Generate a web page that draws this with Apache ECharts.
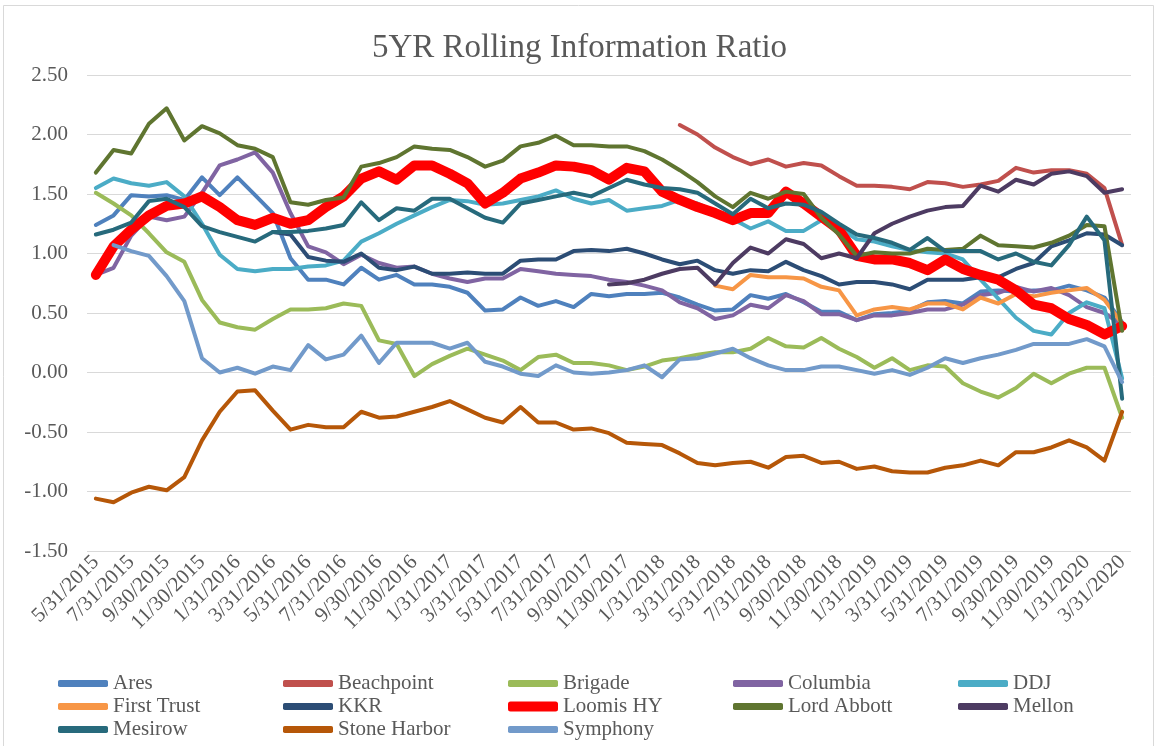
<!DOCTYPE html>
<html>
<head>
<meta charset="utf-8">
<title>5YR Rolling Information Ratio</title>
<script src="https://cdn.jsdelivr.net/npm/echarts@6/dist/echarts.min.js"></script>
<style>
    html, body { margin: 0; padding: 0; background: #fff; }
    #chart { width: 1159px; height: 746px; }
</style>
</head>
<body>
<div id="chart"></div>
<script>
const dates = [
    '5/31/2015', '6/30/2015', '7/31/2015', '8/31/2015', '9/30/2015', '10/31/2015', '11/30/2015', '12/31/2015',
    '1/31/2016', '2/29/2016', '3/31/2016', '4/30/2016', '5/31/2016', '6/30/2016', '7/31/2016', '8/31/2016',
    '9/30/2016', '10/31/2016', '11/30/2016', '12/31/2016',
    '1/31/2017', '2/28/2017', '3/31/2017', '4/30/2017', '5/31/2017', '6/30/2017', '7/31/2017', '8/31/2017',
    '9/30/2017', '10/31/2017', '11/30/2017', '12/31/2017',
    '1/31/2018', '2/28/2018', '3/31/2018', '4/30/2018', '5/31/2018', '6/30/2018', '7/31/2018', '8/31/2018',
    '9/30/2018', '10/31/2018', '11/30/2018', '12/31/2018',
    '1/31/2019', '2/28/2019', '3/31/2019', '4/30/2019', '5/31/2019', '6/30/2019', '7/31/2019', '8/31/2019',
    '9/30/2019', '10/31/2019', '11/30/2019', '12/31/2019',
    '1/31/2020', '2/29/2020', '3/31/2020',
]

const ares = [1.24, 1.32, 1.49, 1.48, 1.49, 1.45, 1.64, 1.49, 1.64, 1.49, 1.34, 0.96, 0.78, 0.78, 0.74, 0.88, 0.78, 0.82, 0.74, 0.74,
    0.72, 0.67, 0.52, 0.53, 0.63, 0.56, 0.60, 0.55, 0.66, 0.64, 0.66, 0.66, 0.67, 0.63, 0.57, 0.52, 0.53, 0.65, 0.62, 0.66,
    0.59, 0.51, 0.51, 0.44, 0.49, 0.50, 0.52, 0.59, 0.60, 0.58, 0.68, 0.69, 0.68, 0.69, 0.69, 0.73, 0.69, 0.63, 0.42]
const beachpoint = [null, null, null, null, null, null, null, null, null, null, null, null, null, null, null, null, null, null, null, null,
    null, null, null, null, null, null, null, null, null, null, null, null, null, 2.08, 2.00, 1.89, 1.81, 1.75, 1.79, 1.73,
    1.76, 1.74, 1.65, 1.57, 1.57, 1.56, 1.54, 1.60, 1.59, 1.56, 1.58, 1.61, 1.72, 1.68, 1.70, 1.70, 1.67, 1.55, 1.07]
const brigade = [1.51, 1.42, 1.32, 1.17, 1.01, 0.93, 0.61, 0.42, 0.38, 0.36, 0.45, 0.53, 0.53, 0.54, 0.58, 0.56, 0.27, 0.24, -0.03, 0.07,
    0.14, 0.20, 0.15, 0.10, 0.02, 0.13, 0.15, 0.08, 0.08, 0.06, 0.02, 0.05, 0.10, 0.12, 0.15, 0.17, 0.17, 0.20, 0.29, 0.22,
    0.21, 0.29, 0.20, 0.13, 0.04, 0.12, 0.02, 0.06, 0.05, -0.09, -0.16, -0.21, -0.13, -0.01, -0.09, -0.01, 0.04, 0.04, -0.38]
const columbia = [0.82, 0.88, 1.15, 1.31, 1.28, 1.31, 1.51, 1.74, 1.79, 1.85, 1.68, 1.34, 1.06, 1.01, 0.91, 0.99, 0.92, 0.88, 0.89, 0.83,
    0.79, 0.76, 0.79, 0.79, 0.87, 0.85, 0.83, 0.82, 0.81, 0.78, 0.76, 0.73, 0.69, 0.59, 0.54, 0.45, 0.48, 0.57, 0.54, 0.65,
    0.60, 0.49, 0.49, 0.44, 0.48, 0.48, 0.50, 0.53, 0.53, 0.57, 0.65, 0.67, 0.72, 0.68, 0.71, 0.65, 0.55, 0.50, 0.40]
const ddj = [1.55, 1.63, 1.59, 1.57, 1.60, 1.48, 1.25, 0.99, 0.87, 0.85, 0.87, 0.87, 0.89, 0.90, 0.94, 1.10, 1.17, 1.25, 1.32, 1.39,
    1.45, 1.44, 1.41, 1.42, 1.45, 1.48, 1.53, 1.46, 1.42, 1.45, 1.36, 1.38, 1.40, 1.45, 1.42, 1.35, 1.29, 1.21, 1.27, 1.19,
    1.19, 1.28, 1.22, 1.12, 1.10, 1.06, 1.03, 1.01, 1.00, 0.95, 0.78, 0.62, 0.46, 0.35, 0.32, 0.50, 0.59, 0.54, -0.05]
const firstTrust = [null, null, null, null, null, null, null, null, null, null, null, null, null, null, null, null, null, null, null, null,
    null, null, null, null, null, null, null, null, null, null, null, null, null, null, null, 0.73, 0.70, 0.82, 0.80, 0.80,
    0.79, 0.72, 0.69, 0.48, 0.53, 0.55, 0.53, 0.58, 0.58, 0.53, 0.63, 0.58, 0.66, 0.64, 0.67, 0.69, 0.71, 0.61, 0.41]
const kkr = [null, null, null, null, null, null, null, null, null, null, 1.18, 1.16, 0.97, 0.94, 0.93, 1.00, 0.88, 0.86, 0.89, 0.83,
    0.83, 0.84, 0.83, 0.83, 0.94, 0.95, 0.95, 1.02, 1.03, 1.02, 1.04, 1.00, 0.95, 0.91, 0.94, 0.86, 0.83, 0.86, 0.85, 0.93,
    0.86, 0.81, 0.74, 0.76, 0.76, 0.74, 0.70, 0.78, 0.78, 0.78, 0.80, 0.80, 0.87, 0.92, 1.06, 1.11, 1.17, 1.16, 1.07]
const loomis = [0.82, 1.06, 1.20, 1.32, 1.40, 1.42, 1.48, 1.39, 1.28, 1.24, 1.30, 1.25, 1.28, 1.39, 1.48, 1.63, 1.69, 1.62, 1.74, 1.74,
    1.67, 1.59, 1.42, 1.51, 1.63, 1.68, 1.74, 1.73, 1.70, 1.62, 1.72, 1.69, 1.52, 1.45, 1.39, 1.34, 1.28, 1.34, 1.34, 1.52,
    1.42, 1.31, 1.20, 0.98, 0.95, 0.95, 0.92, 0.86, 0.95, 0.87, 0.82, 0.78, 0.69, 0.57, 0.54, 0.45, 0.40, 0.32, 0.39]
const lordAbbott = [1.68, 1.87, 1.84, 2.09, 2.22, 1.95, 2.07, 2.01, 1.91, 1.88, 1.81, 1.43, 1.41, 1.45, 1.47, 1.73, 1.76, 1.81, 1.90, 1.88,
    1.87, 1.81, 1.73, 1.78, 1.90, 1.93, 1.99, 1.91, 1.91, 1.90, 1.90, 1.86, 1.79, 1.70, 1.60, 1.48, 1.39, 1.51, 1.46, 1.52,
    1.50, 1.30, 1.16, 0.98, 1.01, 1.00, 1.00, 1.04, 1.03, 1.04, 1.15, 1.07, 1.06, 1.05, 1.09, 1.15, 1.24, 1.23, 0.35]
const mellon = [null, null, null, null, null, null, null, null, null, null, null, null, null, null, null, null, null, null, null, null,
    null, null, null, null, null, null, null, null, null, 0.74, 0.75, 0.78, 0.83, 0.87, 0.88, 0.74, 0.92, 1.05, 1.00, 1.12,
    1.08, 0.96, 1.00, 0.96, 1.17, 1.25, 1.31, 1.36, 1.39, 1.40, 1.57, 1.52, 1.62, 1.58, 1.67, 1.69, 1.65, 1.51, 1.54]
const mesirow = [1.16, 1.20, 1.26, 1.44, 1.46, 1.39, 1.23, 1.18, 1.14, 1.10, 1.18, 1.18, 1.19, 1.21, 1.24, 1.43, 1.28, 1.38, 1.36, 1.46,
    1.46, 1.38, 1.30, 1.26, 1.42, 1.45, 1.48, 1.51, 1.48, 1.55, 1.62, 1.58, 1.55, 1.54, 1.51, 1.42, 1.33, 1.46, 1.38, 1.42,
    1.41, 1.35, 1.25, 1.16, 1.13, 1.09, 1.03, 1.13, 1.02, 1.02, 1.02, 0.95, 1.00, 0.93, 0.90, 1.07, 1.31, 1.11, -0.22]
const stoneHarbor = [-1.06, -1.09, -1.01, -0.96, -0.99, -0.88, -0.57, -0.33, -0.16, -0.15, -0.32, -0.48, -0.44, -0.46, -0.46, -0.33, -0.38, -0.37, -0.33, -0.29,
    -0.24, -0.31, -0.38, -0.42, -0.29, -0.42, -0.42, -0.48, -0.47, -0.51, -0.59, -0.60, -0.61, -0.68, -0.76, -0.78, -0.76, -0.75, -0.80, -0.71,
    -0.70, -0.76, -0.75, -0.81, -0.79, -0.83, -0.84, -0.84, -0.80, -0.78, -0.74, -0.78, -0.67, -0.67, -0.63, -0.57, -0.63, -0.74, -0.33]
const symphony = [null, 1.07, 1.02, 0.98, 0.81, 0.60, 0.12, 0.00, 0.04, -0.01, 0.05, 0.02, 0.23, 0.11, 0.15, 0.31, 0.08, 0.25, 0.25, 0.25,
    0.20, 0.25, 0.09, 0.05, -0.01, -0.03, 0.06, 0.00, -0.01, 0.00, 0.02, 0.06, -0.04, 0.11, 0.12, 0.16, 0.20, 0.12, 0.06, 0.02,
    0.02, 0.05, 0.05, 0.02, -0.01, 0.02, -0.02, 0.04, 0.12, 0.08, 0.12, 0.15, 0.19, 0.24, 0.24, 0.24, 0.28, 0.22, -0.08]

const managers = ['Ares', 'Beachpoint', 'Brigade', 'Columbia', 'DDJ', 'First Trust', 'KKR', 'Loomis HY',
    'Lord Abbott', 'Mellon', 'Mesirow', 'Stone Harbor', 'Symphony']
const managerData = [ares, beachpoint, brigade, columbia, ddj, firstTrust, kkr, loomis,
    lordAbbott, mellon, mesirow, stoneHarbor, symphony]
const managerColors = ['#4f81bd', '#c0504d', '#9bbb59', '#8064a2', '#4bacc6', '#f79646', '#2c4d75', '#ff0000',
    '#5f7530', '#4d3b62', '#276a7c', '#b65708', '#729aca']

const serif = "'Liberation Serif', 'Times New Roman', serif"
const grey = '#595959'

function paintRollingIR(dom) {
    let myChart = echarts.init(dom)
    let series = managers.map((name, i) => ({
        name: name,
        type: 'line',
        data: managerData[i],
        symbol: 'none',
        connectNulls: false,
        animation: false,
        lineStyle: {
            width: name === 'Loomis HY' ? 10 : 4,
            color: managerColors[i],
            cap: 'round',
            join: 'round',
        },
        itemStyle: { color: managerColors[i] },
    }))

    // one legend per item so the 5 columns line up like Excel's
    let legends = managers.map((name, i) => ({
        data: [name],
        left: 58 + (i % 5) * 225,
        top: 673 + Math.floor(i / 5) * 23,
        padding: 0,
        itemWidth: 50,
        itemHeight: name === 'Loomis HY' ? 10 : 7,
        icon: 'roundRect',
        selectedMode: false,
        textStyle: { fontFamily: serif, fontSize: 21, color: grey },
    }))

    let option = {
        backgroundColor: '#fff',
        title: {
            text: '5YR Rolling Information Ratio',
            left: 'center',
            top: 27,
            textStyle: { fontFamily: serif, fontSize: 33, fontWeight: 'normal', color: grey },
        },
        legend: legends,
        grid: { left: 87, right: 28, top: 75, bottom: 195 },
        xAxis: {
            type: 'category',
            data: dates,
            boundaryGap: true,
            axisLine: { show: false },
            axisTick: { show: false },
            axisLabel: {
                interval: 1,
                rotate: 45,
                margin: 8,
                fontFamily: serif,
                fontSize: 21,
                color: grey,
            },
        },
        yAxis: {
            type: 'value',
            min: -1.5,
            max: 2.5,
            interval: 0.5,
            axisLine: { show: false },
            axisTick: { show: false },
            splitLine: { lineStyle: { color: '#d9d9d9', width: 1 } },
            axisLabel: {
                margin: 19,
                fontFamily: serif,
                fontSize: 21,
                color: grey,
                formatter: (v) => v.toFixed(2),
            },
        },
        graphic: [
            {
                type: 'rect',
                shape: { x: 3.5, y: 5.5, width: 1150, height: 760 },
                style: { fill: 'none', stroke: '#d9d9d9', lineWidth: 1 },
                silent: true,
            },
        ],
        series: series,
    }
    myChart.setOption(option)
}

paintRollingIR(document.querySelector('#chart'))
</script>
</body>
</html>
